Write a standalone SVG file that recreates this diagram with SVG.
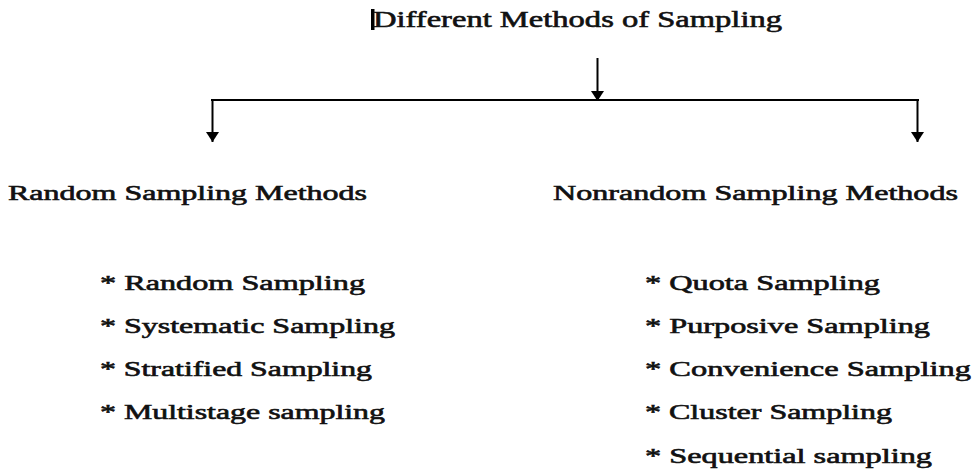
<svg xmlns="http://www.w3.org/2000/svg" width="974" height="472" viewBox="0 0 974 472">
<style>
text{font-family:"Liberation Serif","Times New Roman",serif;font-weight:normal;fill:#111;stroke:#111;stroke-width:0.6;font-size:21px}
.c{stroke:#000;stroke-width:2;fill:none}
</style>
<defs>
<marker id="ah" viewBox="0 0 10 13" refX="10" refY="6.5" markerWidth="10" markerHeight="13" markerUnits="userSpaceOnUse" orient="auto">
<path d="M0,0 L10,6.5 L0,13 z" fill="#000"/>
</marker>
</defs>
<rect width="974" height="472" fill="#fff"/>
<g id="title">
<rect x="371" y="9" width="3.5" height="21" fill="#000"/>
<text x="373" y="27" style="font-size:23px" textLength="409" lengthAdjust="spacingAndGlyphs">Different Methods of Sampling</text>
</g>
<g id="connectors">
<path class="c" d="M597.5,58 V101" marker-end="url(#ah)"/>
<path class="c" d="M211,100 H919"/>
<path class="c" d="M212.5,100 V142" marker-end="url(#ah)"/>
<path class="c" d="M917.5,100 V142" marker-end="url(#ah)"/>
</g>
<g id="random">
<text x="8" y="200" textLength="359" lengthAdjust="spacingAndGlyphs">Random Sampling Methods</text>
<text x="100" y="290" textLength="265" lengthAdjust="spacingAndGlyphs">* Random Sampling</text>
<text x="100" y="333" textLength="295" lengthAdjust="spacingAndGlyphs">* Systematic Sampling</text>
<text x="100" y="376" textLength="272" lengthAdjust="spacingAndGlyphs">* Stratified Sampling</text>
<text x="100" y="419" textLength="285" lengthAdjust="spacingAndGlyphs">* Multistage sampling</text>
</g>
<g id="nonrandom">
<text x="553" y="200" textLength="405" lengthAdjust="spacingAndGlyphs">Nonrandom Sampling Methods</text>
<text x="645" y="290" textLength="235" lengthAdjust="spacingAndGlyphs">* Quota Sampling</text>
<text x="645" y="333" textLength="285" lengthAdjust="spacingAndGlyphs">* Purposive Sampling</text>
<text x="645" y="376" textLength="326" lengthAdjust="spacingAndGlyphs">* Convenience Sampling</text>
<text x="645" y="419" textLength="247" lengthAdjust="spacingAndGlyphs">* Cluster Sampling</text>
<text x="645" y="463" textLength="287" lengthAdjust="spacingAndGlyphs">* Sequential sampling</text>
</g>
</svg>
